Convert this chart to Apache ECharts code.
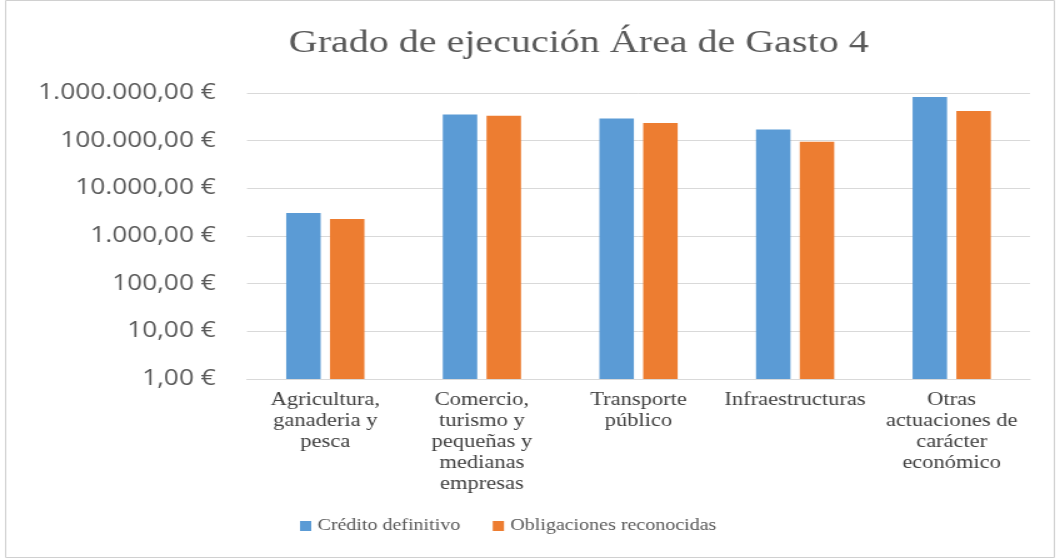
<!DOCTYPE html>
<html>
<head>
<meta charset="utf-8">
<script src="https://cdn.jsdelivr.net/npm/echarts@6/dist/echarts.min.js"></script>
<style>
    html, body { margin: 0; padding: 0; background: #fff; overflow: hidden; }
    /* the original picture is stretched sideways, so draw narrower and widen it */
    #chart { width: 848px; height: 559px; transform: scaleX(1.25); transform-origin: 0 0; }
</style>
</head>
<body>
<div id="chart"></div>
<script>
    const categories = [
        'Agricultura,\nganaderia y\npesca',
        'Comercio,\nturismo y\npequeñas y\nmedianas\nempresas',
        'Transporte\npúblico',
        'Infraestructuras',
        'Otras\nactuaciones de\ncarácter\neconómico'
    ]
    const credito = [3020, 355000, 293000, 172000, 824000]
    const obligaciones = [2270, 334000, 235000, 95000, 419000]

    // 1000000 -> "1.000.000,00 €"
    function euro(v) {
        let s = Math.round(v).toString().replace(/\B(?=(\d{3})+(?!\d))/g, '.')
        return s + ',00 €'
    }

    let chart = echarts.init(document.getElementById('chart'))
    let option = {
        backgroundColor: '#fff',
        animation: false,
        color: ['#5b9bd5', '#ed7d31'],
        title: {
            text: 'Grado de ejecución Área de Gasto 4',
            left: 458,
            textAlign: 'center',
            top: 23,
            textStyle: {
                fontFamily: 'Liberation Serif',
                fontWeight: 'normal',
                fontSize: 32,
                color: '#595959'
            }
        },
        graphic: [{
            type: 'rect',
            shape: { x: 4.5, y: 0.5, width: 839, height: 557 },
            style: { fill: 'none', stroke: '#d0d0d0', lineWidth: 1 },
            silent: true
        }],
        legend: {
            bottom: 20,
            left: 235,
            itemWidth: 9,
            itemHeight: 10,
            itemGap: 26,
            icon: 'rect',
            textStyle: {
                fontFamily: 'Liberation Serif',
                fontSize: 16,
                color: '#595959'
            },
            data: ['Crédito definitivo', 'Obligaciones reconocidas']
        },
        grid: {
            left: 197.6,
            right: 24,
            top: 93,
            bottom: 180
        },
        xAxis: {
            type: 'category',
            data: categories,
            axisTick: { show: false },
            axisLine: { lineStyle: { color: '#d9d9d9' } },
            axisLabel: {
                interval: 0,
                margin: 11,
                fontFamily: 'Liberation Serif',
                fontSize: 18,
                lineHeight: 21,
                color: '#404040'
            }
        },
        yAxis: {
            type: 'log',
            logBase: 10,
            min: 1,
            max: 1000000,
            axisLine: { show: false },
            axisTick: { show: false },
            splitLine: { lineStyle: { color: '#d9d9d9' } },
            axisLabel: {
                margin: 25,
                fontFamily: 'Open Sans',
                fontSize: 21,
                color: '#595959',
                formatter: euro
            }
        },
        series: [{
            name: 'Crédito definitivo',
            type: 'bar',
            data: credito,
            barWidth: '22%',
            barGap: '27%'
        }, {
            name: 'Obligaciones reconocidas',
            type: 'bar',
            data: obligaciones,
            barWidth: '22%',
            barGap: '27%'
        }]
    }
    chart.setOption(option)
</script>
</body>
</html>
